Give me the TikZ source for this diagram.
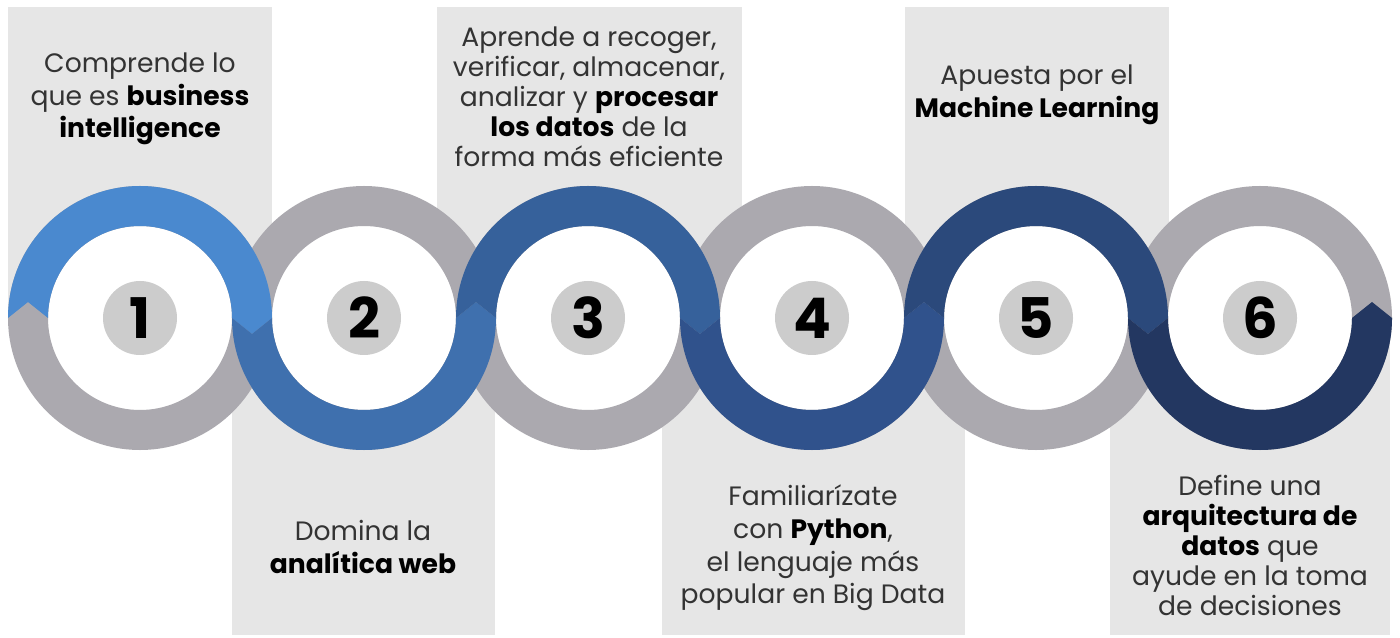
\documentclass[tikz,border=0pt]{standalone}
\usepackage{fontspec}
\setmainfont{Poppins}
\definecolor{panelgray}{HTML}{E6E6E6}
\definecolor{ringgray}{HTML}{ABA9AF}
\definecolor{diskgray}{HTML}{CCCCCC}
\definecolor{cA}{HTML}{4A89CF}
\definecolor{cB}{HTML}{3F70AE}
\definecolor{cC}{HTML}{36619B}
\definecolor{cD}{HTML}{30528C}
\definecolor{cE}{HTML}{2B497B}
\definecolor{cF}{HTML}{233761}
\definecolor{txt}{HTML}{333333}
\newcommand\hb[1]{{\bfseries\color{black}#1}}
\newcommand\topseg[2]{\fill[#2] (#1-132,319) arc[start angle=180,end angle=0,radius=132] -- (#1+112,303) -- (#1+92,319) arc[start angle=0,end angle=180,radius=92] -- (#1-112,335) -- cycle;}
\newcommand\botseg[2]{\fill[#2] (#1-132,319) arc[start angle=180,end angle=360,radius=132] -- (#1+112,335) -- (#1+92,319) arc[start angle=360,end angle=180,radius=92] -- (#1-112,303) -- cycle;}
\begin{document}
\begin{tikzpicture}[x=0.5pt,y=0.5pt,
  numdisk/.style={circle,fill=diskgray,minimum size=37pt,inner sep=0pt,font=\fontsize{28}{28}\selectfont\bfseries,text=black},
  label/.style={align=center,text=txt,font=\fontsize{13.3}{15}\selectfont,inner sep=0pt},
  wide/.style={font=\fontsize{13.3}{16.3}\selectfont}]
\useasboundingbox (0,0) rectangle (1400,637);
\fill[white] (0,0) rectangle (1400,637);
% panels
\fill[panelgray] (8,319) rectangle (272,630);
\fill[panelgray] (437,319) rectangle (742,630);
\fill[panelgray] (905,319) rectangle (1169,630);
\fill[panelgray] (232,2) rectangle (495,319);
\fill[panelgray] (662,2) rectangle (965,319);
\fill[panelgray] (1110,2) rectangle (1390,319);
% white discs and gray rings
\foreach \cx in {140,364,588,812,1036,1260}{
  \fill[white] (\cx,319) circle[radius=92];
  \draw[ringgray,line width=20pt] (\cx,319) circle[radius=112];
}
% coloured segments
\topseg{140}{cA}
\botseg{364}{cB}
\topseg{588}{cC}
\botseg{812}{cD}
\topseg{1036}{cE}
\botseg{1260}{cF}
% numbers
\node[numdisk] (n1) at (140,319) {1};
\node[numdisk] (n2) at (364,319) {2};
\node[numdisk] (n3) at (588,319) {3};
\node[numdisk] (n4) at (812,319) {4};
\node[numdisk] (n5) at (1036,319) {5};
\node[numdisk] (n6) at (1260,319) {6};
% texts
\node[label,wide] (t1) at (140,538) {Comprende lo\\que es \hb{business}\\\hb{intelligence}};
\node[label] (t3) at (589,540) {Aprende a recoger,\\verificar, almacenar,\\analizar y \hb{procesar}\\\hb{los datos} de la\\forma más eficiente};
\node[label,wide] (t5) at (1037,542) {Apuesta por el\\\hb{Machine Learning}};
\node[label,wide] (t2) at (363,90) {Domina la\\\hb{analítica web}};
\node[label,wide] (t4) at (813,89) {Familiarízate\\con \hb{Python},\\el lenguaje más\\popular en Big Data};
\node[label] (t6) at (1250,92) {Define una\\\hb{arquitectura de}\\\hb{datos} que\\ayude en la toma\\de decisiones};
\end{tikzpicture}
\end{document}
